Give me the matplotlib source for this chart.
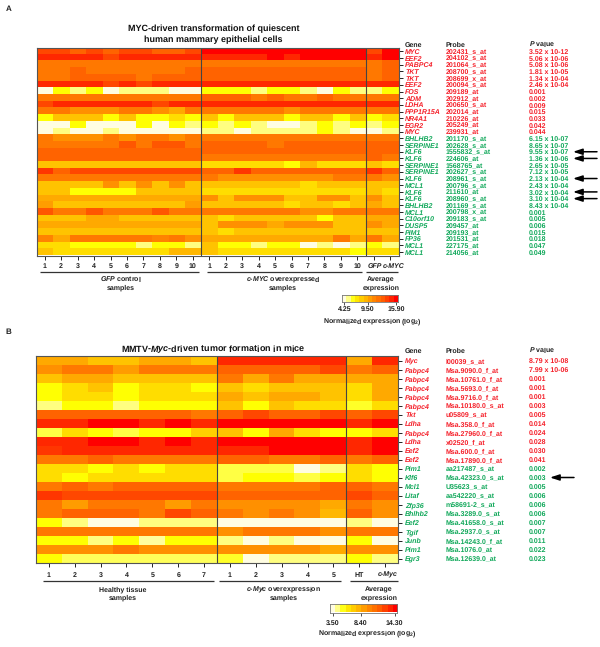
import numpy as np
import matplotlib
matplotlib.use("Agg")
import matplotlib.pyplot as plt
from matplotlib.colors import LinearSegmentedColormap

plt.rcParams['font.family'] = ['Liberation Sans', 'DejaVu Sans']
plt.rcParams['font.weight'] = 'bold'
plt.rcParams['mathtext.fontset'] = 'custom'
plt.rcParams['mathtext.rm'] = 'Liberation Sans:bold'
plt.rcParams['mathtext.it'] = 'Liberation Sans:italic:bold'
plt.rcParams['mathtext.bf'] = 'Liberation Sans:bold'
plt.rcParams['text.hinting'] = 'no_hinting'
plt.rcParams['text.hinting_factor'] = 1

# Colour steps (0 = lowest, 11 = highest on each panel's scale)
A_GFP = [
 [9,9,8,9,8,9,9,8,8,9],[10,10,10,10,9,10,10,10,10,10],[7,7,7,7,7,7,7,7,7,7],[7,7,8,7,7,7,7,7,7,8],
 [7,7,8,8,8,8,7,8,8,8],[10,10,10,10,9,10,9,10,10,10],[0,2,1,2,0,1,1,1,0,0],[7,7,7,7,7,7,7,7,7,7],
 [9,10,10,10,10,10,10,9,10,10],[7,7,6,6,6,7,7,6,5,7],[2,4,4,4,2,4,2,2,3,2],[0,0,2,0,0,0,2,0,2,1],
 [0,1,0,0,1,0,0,0,0,0],[7,6,6,6,7,6,7,7,6,7],[7,7,7,7,7,8.5,7,8.5,8.5,7],[8,8,8,8,8,8,8,8,8,8],
 [8,8,8,8,8,8,8,8,8,8],[4,4,4,4,4,4,4,4,4,4],[9.5,8,9,9,9,9,9,9,9,9],[7,7,7,7,7,7,7,7,7,7],
 [4,4,4,4,6,4,6,4,6,4],[4,4,2,2,2,2,4,4,4,4],[5,5,5,5,5,5,5,5,5,5],[5.5,4,4,4,4,4,4,4,4,5.5],
 [8.5,7,7,8.5,7,7,7,8.5,7,7],[4,4,4,5,5,4,4,4,4,4],[5,5,5,5,5,5,5,5,5,5],[4,4,4,4,4,4,4,4,4,4],
 [6.5,5,7,7,7,7,7,6.5,7,6],[3,3,2,2,2,2,1,2,2,1],[4,3,3,3,3,3,3,3,4.5,4.5]]
A_MYC = [
 [11,11,11,11,11,11,11,11,11,11],[10,10,10,10,11,10,11,11,11,11],[7,7,7,7,7,7,7,7,7,7],[8,8,8,8,8,8,8,8,8,8],
 [8,8,8,8,8,8,8,8,8,8],[10,10,10,10,10,10,10,10,10,10],[2,2,2,1,2,2,1,0,2,1],[8,8,8,7,8,7,7,8,7,7],
 [10,10,10,10,10,10,10,10,10,10],[7,7,7,7,7,6,7,7,7,7],[4,2,4,4,4,2,4,4,2,4],[2,1,2,1,0,0,1,2,1,2],
 [1,1,0,1,1,1,1,2,1,0],[7,7,7,7,7,7,7,7,7,7],[8,8,8,8,7,8,8,8,8,8],[8,8,8,8,8,8,8,8,8,8],
 [7,7,7,7,7,7,7,7,7,7],[3,3,3,3,3,2,4.5,3,3,3],[8,8,9.5,8,8,8,8,8,8,8],[7,6,6,6,6,6,6,6,7,7],
 [4,4,4,4,4,4,3,4,4,4],[3,3,3,3,3,3,3,3,3,3],[6,4,6,6,6,4,4,6,6,4],[4,4,4,4,4,3,4,4,3,4],
 [7,7,7,7,7,7,6,6,7,7],[4,3,4,4,4,4,4,2,4,4],[4,6,6,6,5,6,6,6,4,4],[4,3,4,4,4,4,4,4,4,4],
 [5,5,5,5,5,5,5,5,7,5],[4,2,2,1,2,2,0,1,0,1],[4,3,3,3,3,3,3,3,3,2]]
A_AVG = [[9,11],[10,11],[7,8],[7,8],[7,8],[10,10],[1,2],[7,7],[10,10],[7,7],[2,3],[1,2],[0,1],[7,7],[8,8],[8,8],
         [8,7],[4,3],[9.5,8],[7,6],[4,4],[4,3],[6,4],[5,4],[7,7],[5,5],[6,5],[4,4],[7,5],[2,1],[3,3]]
B_HEALTHY = [
 [5,5,4,4,5,5,4],[6,7,7,5.5,7,7,7],[4,5,5,4,4,4,4],[2,3,4,2,3,3,2],[2,3,3,2,3,3,3],[1,2,2,1,2,2,2],
 [8,8,8,8,8,8,7],[10,10,11,11,10,11,10],[1.5,3,2,1.5,2,2,3.5],[10,10,11,11,10,11,10],[9.5,10,10,10,10,10,10],[7,7,8,7,7,7,7],
 [3,3,2,3,2,3,3],[3,2,3,3,3,3,3],[7,8,7,8,8,8,8],[9.5,9,9,9,9,9,9],[7,5.5,7,7,7,5.5,7],[7,8,8,8,7,9,8],
 [2,1,0,0,1,1,1],[7,7,7,7,7,7,7],[2,2,1,2,0.7,2,2],[6,6,6,7,6,6,6],[2,1.3,1.3,1.3,1.3,1.3,1.3]]
B_MYC = [
 [10,10,10,10,10],[8,8,8,8,9],[7,5,7,5,5],[4,3,4,4,4],[5,4,5,5,4],[4,2,4,3,3],
 [8,9,8,8,9],[11,11,11,11,11],[4,2,5,3,2],[11,11,11,11,11],[10,10,11,11,11],[8,8,7,7,8],
 [1.5,1.5,1.5,0,1],[1.5,2,2,1.5,2],[7,7,7,7,8],[8,8,8,8,8],[6,6,6,6,5],[7,6,7,6,4.5],
 [0,0,0,0,0],[6,7,7,7,6],[1,0,1,0,0],[6,6,6,6,5],[1.7,0,1,1,1]]
B_AVG = [[5,10],[7,8],[5,5],[3,5],[3,5],[1.7,3],[8,9],[10,11],[2,3],[10,11],[10,11],[7,8],
         [3,2],[3,2],[8,7],[9,8],[7,6],[8,6],[1,0],[7,7],[2,0],[6,6],[2,1]]

A_GENES_UP = ['MYC','EEF2','PABPC4','TKT','TKT','EEF2','FOS','ADM','LDHA','PPP1R15A','NR4A1','EGR2','MYC']
A_GENES_DOWN = ['BHLHB2','SERPINE1','KLF6','KLF6','SERPINE1','SERPINE1','KLF6','MCL1','KLF6','KLF6','BHLHB2','MCL1',
                'C10orf10','DUSP5','PIM1','FP36','MCL1','MCL1']
A_PROBES = ['202431_s_at','204102_s_at','201064_s_at','208700_s_at','208699_x_at','200094_s_at','209189_at','202912_at',
            '200650_s_at','202014_at','210226_at','205249_at','239931_at','201170_s_at','202628_s_at','1555832_s_at',
            '224606_at','1568765_at','202627_s_at','208961_s_at','200796_s_at','211610_at','208960_s_at','201169_s_at',
            '200798_x_at','209183_s_at','209457_at','209193_at','201531_at','227175_at','214056_at']
A_PVALS = ['3.52 x 10-12','5.06 x 10-06','5.08 x 10-06','1.81 x 10-05','1.34 x 10-04','2.46 x 10-04','0.001','0.002',
           '0.009','0.015','0.033','0.042','0.044','6.15 x 10-07','8.65 x 10-07','9.55 x 10-07','1.36 x 10-06',
           '2.65 x 10-05','7.12 x 10-05','2.13 x 10-04','2.43 x 10-04','3.02 x 10-04','3.10 x 10-04','8.43 x 10-04',
           '0.001','0.005','0.006','0.015','0.018','0.047','0.049']
A_ARROW_ROWS = [15, 16, 19, 21, 22]
B_GENES_UP = ['Myc','Pabpc4','Pabpc4','Pabpc4','Pabpc4','Pabpc4','Tkt','Ldha','Pabpc4','Ldha','Eef2','Eef2']
B_GENES_DOWN = ['Pim1','Klf6','Mcl1','Litaf','Zfp36','Bhlhb2','Eef2','Tgif','Junb','Pim1','Egr3']
B_PROBES = ['l00039_s_at','Msa.9090.0_f_at','Msa.10761.0_f_at','Msa.5693.0_f_at','Msa.9716.0_f_at','Msa.10180.0_s_at',
            'u05809_s_at','Msa.358.0_f_at','Msa.27960.0_f_at','x02520_f_at','Msa.600.0_f_at','Msa.17890.0_f_at',
            'aa217487_s_at','Msa.42323.0_s_at','U35623_s_at','aa542220_s_at','m58691-2_s_at','Msa.3289.0_s_at',
            'Msa.41658.0_s_at','Msa.2937.0_s_at','Msa.14243.0_f_at','Msa.1076.0_at','Msa.12639.0_at']
B_PVALS = ['8.79 x 10-08','7.99 x 10-06','0.001','0.001','0.001','0.003','0.005','0.014','0.024','0.028','0.030','0.041',
           '0.002','0.003','0.005','0.006','0.006','0.006','0.007','0.007','0.011','0.022','0.023']
B_ARROW_ROWS = [13]
A_SCALE = [4.25, 9.50, 15.90]
B_SCALE = [3.50, 8.40, 14.30]

RED, GREEN = '#F5202A', '#10A85A'
anchors = ['#FFFDE2','#FFFF80','#FFFF00','#FFDD00','#FFC400','#FFAA00','#FF9000','#FF7800','#FF6400','#FF4800','#FF2800','#FF0000']
cmap = LinearSegmentedColormap.from_list('heat', anchors, N=256)
STEPS = len(anchors) - 1
W, H = 600, 647
fig = plt.figure(figsize=(W/100, H/100), dpi=100)

def axes_px(x0, y0, x1, y1):
    return fig.add_axes([x0/W, 1-y1/H, (x1-x0)/W, (y1-y0)/H])

ov = fig.add_axes([0, 0, 1, 1], zorder=5)
ov.set_xlim(0, W); ov.set_ylim(H, 0); ov.axis('off'); ov.patch.set_alpha(0)

def txt(x, y, s, size=5.2, color='#222222', ha='center', style='normal'):
    ov.text(x, y + 0.5*size, s, fontsize=size, color=color, ha=ha, va='baseline', style=style, fontweight='bold')

def panel(box, blocks, scale, genes_up, genes_down, probes, pvals, arrows, arrow_x, xcols=(405, 446, 529), hdr_y=0):
    x0, y0, x1, y1 = box
    levels = np.hstack([np.array(b, float) for b in blocks])
    lo, hi = scale[0], scale[-1]
    expr = lo + levels * (hi - lo) / STEPS
    ax = axes_px(x0, y0, x1, y1)
    ax.imshow(expr, cmap=cmap, vmin=lo, vmax=hi, aspect='auto', interpolation='nearest')
    nr, nc = expr.shape
    for s in ax.spines.values():
        s.set_color('#555555'); s.set_linewidth(0.8)
    pos = np.cumsum([np.array(b).shape[1] for b in blocks])[:-1]
    for p in pos:
        ax.axvline(p-0.5, color='#444444', lw=0.8)
    ax.yaxis.tick_right()
    ax.set_yticks(range(nr)); ax.set_yticklabels([])
    ax.set_xticks(range(nc)); ax.set_xticklabels([])
    ax.tick_params(length=3, width=0.7, color='#222222', pad=1)
    rh = (y1-y0)/nr
    ry = lambda r: y0 + (r+0.5)*rh
    genes = genes_up + genes_down
    for r in range(nr):
        c = RED if r < len(genes_up) else GREEN
        txt(xcols[0], ry(r), genes[r], color=c, ha='left', style='italic')
        txt(xcols[1], ry(r), probes[r], color=c, ha='left')
        txt(xcols[2], ry(r), pvals[r], color=c, ha='left')
    txt(xcols[0], hdr_y, 'Gene', ha='left')
    txt(xcols[1], hdr_y, 'Probe', ha='left')
    txt(xcols[2], hdr_y, r'$\mathit{P}$ value', ha='left')
    for r in arrows:
        ov.annotate('', xy=(arrow_x, ry(r)), xytext=(arrow_x+24, ry(r)),
                    arrowprops=dict(arrowstyle='-|>,head_width=0.18,head_length=0.55', color='black', lw=1.1, shrinkA=0, shrinkB=0))

def colorbar(box, scale, tick_px, label_y, tick_y, label_x, label_size):
    x0, y0, x1, y1 = box
    lo, hi = scale[0], scale[-1]
    ax = axes_px(x0, y0, x1, y1)
    per_px = (hi-lo)/(tick_px[1]-tick_px[0])
    xl, xr = lo-(tick_px[0]-x0)*per_px, hi+(x1-tick_px[1])*per_px
    grad = np.linspace(lo, hi, 13)[None, :]
    ax.imshow(grad, cmap=cmap, vmin=lo, vmax=hi, aspect='auto', extent=[xl, xr, 0, 1], interpolation='nearest')
    ax.set_yticks([]); ax.set_xticks(scale); ax.set_xticklabels([])
    ax.tick_params(length=2, width=0.6, color='#333333')
    for s in ax.spines.values():
        s.set_color('#777777'); s.set_linewidth(0.6)
    for v in scale:
        txt(tick_px[0]+(v-lo)/per_px, tick_y, f'{v:.2f}', size=5.2)
    txt(label_x, label_y, r'Normalized expression (log$_{\mathrm{2}}$)', size=label_size)

def bracket(x0, x1, y):
    ov.plot([x0, x1], [y, y], color='#333333', lw=0.9, solid_capstyle='butt')

# Panel A
boxA = (36.5, 48, 398.5, 255.5)
panel(boxA, [A_GFP, A_MYC, A_AVG], A_SCALE, A_GENES_UP, A_GENES_DOWN, A_PROBES, A_PVALS, A_ARROW_ROWS, 573, hdr_y=44)
txt(8.5, 8.5, 'A', size=5.8)
txt(213.5, 28, 'MYC-driven transformation of quiescent', size=6.7, color='#111111')
txt(213.5, 39, 'human mammary epithelial cells', size=6.7, color='#111111')
cwA = (boxA[2]-boxA[0])/22
for i in range(10):
    txt(boxA[0]+(i+.5)*cwA, 265.5, str(i+1), size=5)
    txt(boxA[0]+(i+10.5)*cwA, 265.5, str(i+1), size=5)
txt(374.5, 265.5, 'GFP', style='italic', size=5)
txt(393.5, 265.5, 'c-MYC', style='italic', size=5)
bracket(40, 198.5, 271.5); bracket(206.7, 362, 271.5); bracket(366, 398, 271.5)
txt(121, 279, r'$\mathit{GFP}$ control', size=5); txt(121, 287.5, 'samples', size=5)
txt(283, 279, r'$\mathit{c}$-$\mathit{MYC}$ overexpressed', size=5); txt(283, 287.5, 'samples', size=5)
txt(381, 279, 'Average', size=5); txt(381, 287.5, 'expression', size=5)
colorbar((342, 294.5, 397.5, 301.5), A_SCALE, (344.5, 396), 321, 308.5, 372, 5.2)

# Panel B
boxB = (36, 356, 398, 563)
panel(boxB, [B_HEALTHY, B_MYC, B_AVG], B_SCALE, B_GENES_UP, B_GENES_DOWN, B_PROBES, B_PVALS, B_ARROW_ROWS, 550, hdr_y=350.5)
txt(8.5, 331, 'B', size=5.8)
txt(213.5, 348.5, r'MMTV-$\mathit{Myc}$-driven tumor formation in mice', size=6.7, color='#111111')
cwB = (boxB[2]-boxB[0])/14
for i in range(7):
    txt(boxB[0]+(i+.5)*cwB, 574.5, str(i+1), size=5)
for i in range(5):
    txt(boxB[0]+(i+7.5)*cwB, 574.5, str(i+1), size=5)
txt(359.5, 574.5, 'HT', size=5)
txt(388, 574.5, 'c-Myc', style='italic', size=5)
bracket(43, 213.5, 580.5); bracket(218.5, 341, 580.5); bracket(350, 398, 580.5)
txt(122.5, 589, 'Healthy tissue', size=5); txt(122.5, 597.5, 'samples', size=5)
txt(284, 589, r'$\mathit{c}$-$\mathit{Myc}$ overexpression', size=5); txt(284, 597.5, 'samples', size=5)
txt(379, 589, 'Average', size=5); txt(379, 597.5, 'expression', size=5)
colorbar((329.5, 604, 397, 612.5), B_SCALE, (333, 394.5), 632.5, 622, 367.5, 5.1)

fig.savefig('out.png', dpi=100)
